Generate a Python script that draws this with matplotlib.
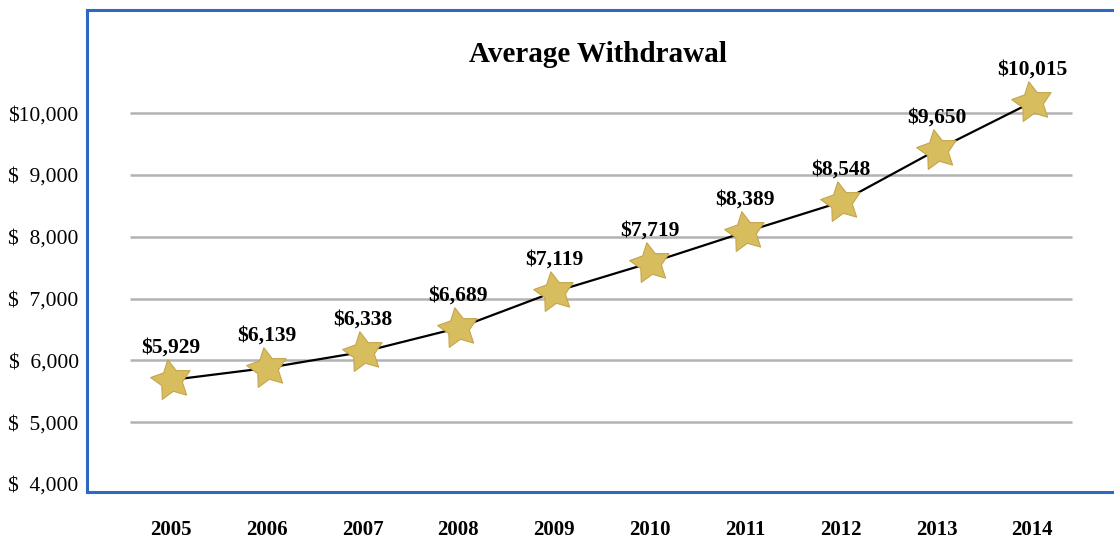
import matplotlib
matplotlib.use("Agg")
import matplotlib.pyplot as plt
import numpy as np
from matplotlib.path import Path

# Data
years = [2005, 2006, 2007, 2008, 2009, 2010, 2011, 2012, 2013, 2014]
# where the stars sit against the left axis
point_values = [5683, 5877, 6136, 6524, 7107, 7576, 8078, 8563, 9405, 10181]
# the printed labels above each star
label_values = [5929, 6139, 6338, 6689, 7119, 7719, 8389, 8548, 9650, 10015]
y_ticks = [4000, 5000, 6000, 7000, 8000, 9000, 10000]
y_tick_labels = ["$  4,000", "$  5,000", "$  6,000", "$  7,000", "$  8,000", "$  9,000", "$10,000"]
title = "Average Withdrawal"

plt.rcParams["font.family"] = ["Liberation Serif", "DejaVu Serif"]

W, H = 1114, 540
fig = plt.figure(figsize=(W / 100, H / 100), dpi=100)

# axes box: left 87px, top 10px, bottom 492px, runs to the right edge
ax = fig.add_axes([87 / W, (H - 492) / H, (W - 87) / W + 0.01, (492 - 10) / H])

border = "#2f68bf"
for side in ["left", "top", "bottom"]:
    ax.spines[side].set_color(border)
    ax.spines[side].set_linewidth(2.2)
ax.spines["right"].set_visible(False)

ax.set_xlim(2004.12, 2014.87 + 0.1)
ax.set_ylim(3870, 11670)

# gridlines (not the bottom one, which is the box edge)
ax.hlines(y_ticks[1:], 2004.57, 2014.41, color="#b3b3b3", linewidth=1.8, zorder=1)

# slightly chubby, tilted five point star
ang = np.deg2rad(90 + 10 + np.arange(10) * 36)
rad = np.where(np.arange(10) % 2 == 0, 1.0, 0.52)
verts = np.column_stack([rad * np.cos(ang), rad * np.sin(ang)])
star = Path(np.vstack([verts, verts[:1]]), closed=True)

ax.plot(years, point_values, color="black", linewidth=1.6, zorder=2)
ax.plot(years, point_values, linestyle="none", marker=star, markersize=30,
        markerfacecolor="#d8bd5f", markeredgecolor="#c4a54c", markeredgewidth=0.8, zorder=3)

for x, y, v in zip(years, point_values, label_values):
    ax.annotate(f"${v:,}", (x, y), xytext=(0, 23), textcoords="offset points",
                ha="center", va="center", fontsize=15.5, fontweight="bold")

ax.set_yticks(y_ticks)
ax.set_yticklabels(y_tick_labels, fontsize=15.5)
ax.set_xticks(years)
ax.set_xticklabels([str(y) for y in years], fontsize=15, fontweight="bold")
ax.tick_params(axis="y", length=0, pad=6)
ax.tick_params(axis="x", length=0, pad=20)

fig.text(598 / W, 1 - 55 / H, title, ha="center", va="center",
         fontsize=21, fontweight="bold")

fig.savefig("out.png", dpi=100)
